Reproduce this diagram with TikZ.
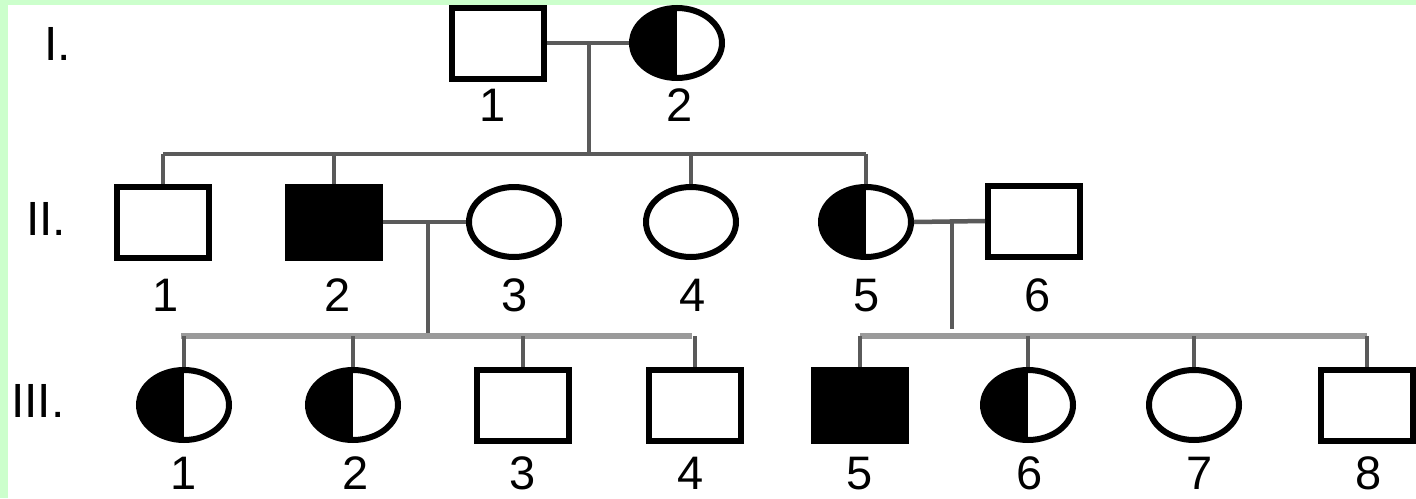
\documentclass[tikz,border=0pt]{standalone}
\usepackage{fontspec}
\setmainfont{Liberation Sans}
\usetikzlibrary{shapes.geometric}
\definecolor{bggreen}{HTML}{CCFFCC}
\definecolor{linecol}{HTML}{5A5A5A}
\definecolor{barlight}{HTML}{9A9A9A}
\tikzset{
  person/.style={draw=black, line width=6pt, fill=white, inner sep=0pt},
  male/.style={person, rectangle, minimum width=92pt, minimum height=71pt},
  female/.style={person, ellipse, minimum width=90pt, minimum height=70pt},
  affected/.style={fill=black},
  carrier/.style={path picture={\fill[black] (path picture bounding box.south west) rectangle (path picture bounding box.north);}},
  num/.style={font=\fontsize{47}{49}\selectfont, inner sep=0pt, anchor=base},
  gen/.style={font=\fontsize{48}{50}\selectfont, inner sep=0pt, anchor=base west},
  link/.style={draw=linecol, line width=4.5pt},
  lightlink/.style={draw=barlight, line width=6pt}
}
\begin{document}
\begin{tikzpicture}[x=1pt,y=-1pt]
\fill[bggreen] (0,0) rectangle (1416,498);
\fill[white] (8,5) rectangle (1416,498);
\useasboundingbox (0,0) rectangle (1416,498);

% generation labels
\node[gen] (gI) at (44,60) {I.};
\node[gen] (gII) at (26,235) {II.};
\node[gen] (gIII) at (11,417) {III.};

% generation I
\node[male] (I1) at (498,43) {};
\node[female, carrier] (I2) at (677,43) {};
\node[num] (lI1) at (493,121) {1};
\node[num] (lI2) at (680,121) {2};

% generation II
\node[male] (II1) at (163,222) {};
\node[male, affected] (II2) at (334,222) {};
\node[female] (II3) at (514,222) {};
\node[female] (II4) at (691,222) {};
\node[female, carrier] (II5) at (866,222) {};
\node[male] (II6) at (1034,221) {};
\foreach \n/\x in {1/166,2/338,3/515,4/693,5/867,6/1038}
  \node[num] (lII\n) at (\x,311) {\n};

% generation III
\node[female, carrier] (III1) at (184,405) {};
\node[female, carrier] (III2) at (353,405) {};
\node[male] (III3) at (523,405) {};
\node[male] (III4) at (695,405) {};
\node[male, affected] (III5) at (860,405) {};
\node[female, carrier] (III6) at (1028,405) {};
\node[female] (III7) at (1194,405) {};
\node[male] (III8) at (1367,405) {};
\foreach \n/\x in {1/184,2/356,3/523,4/691,5/860,6/1030,7/1200,8/1369}
  \node[num] (lIII\n) at (\x,489) {\n};

% coordinates for the lines
\coordinate (mI) at (589,45);
\coordinate (sI) at (589,154);
\coordinate (mII) at (428,222);
\coordinate (sII) at (428,336);
\coordinate (mIIb) at (952,221);
\coordinate (sIIb) at (952,329);
\coordinate (barIIb) at (952,336);

% generation I marriage and descent
\draw[link] (I1.east) -- (I2.west);
\draw[link] (mI) -- (sI);
\draw[link] (II1.north |- sI) -- (II5.north |- sI);
\foreach \c in {II1,II2,II4,II5}
  \draw[link] (\c.north) -- (\c.north |- sI);

% II-2 x II-3
\draw[link] (II2.east) -- (II3.west);
\draw[link] (mII) -- (sII);
\draw[lightlink] ([xshift=-3pt]III1.north |- sII) -- ([xshift=-3pt]III4.north |- sII);
\foreach \c in {III1,III2,III3,III4}
  \draw[link] (\c.north) -- (\c.north |- sII);

% II-5 x II-6
\draw[link] (II5.east) -- (II6.west);
\draw[link] (mIIb) -- (sIIb);
\draw[lightlink] (III5.north |- barIIb) -- (III8.north |- barIIb);
\foreach \c in {III5,III6,III7,III8}
  \draw[link] (\c.north) -- (\c.north |- barIIb);
\end{tikzpicture}
\end{document}
